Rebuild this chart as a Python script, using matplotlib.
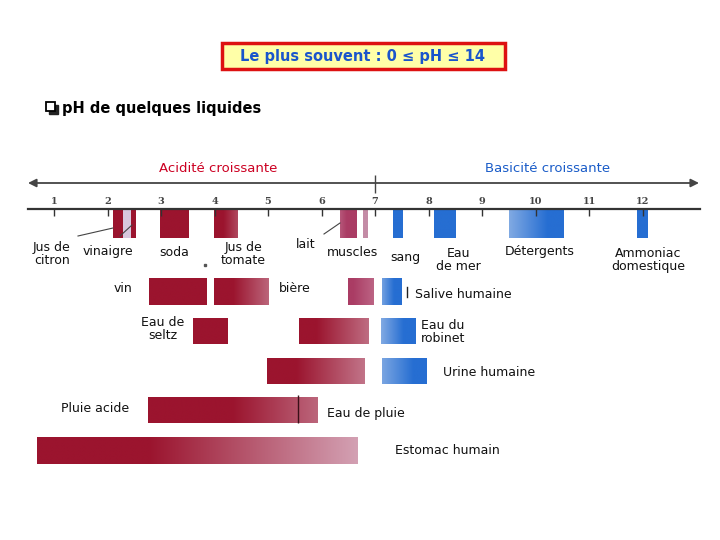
import numpy as np
import matplotlib
matplotlib.use("Agg")
import matplotlib.pyplot as plt
from matplotlib.patches import Rectangle

# ---------------- data ----------------
ph_ticks = [1, 2, 3, 4, 5, 6, 7, 8, 9, 10, 11, 12]

bar_names = ["Jus de citron", "vinaigre (clair)", "vinaigre", "soda", "Jus de tomate",
             "lait", "muscles", "sang", "Eau de mer", "Détergents", "Ammoniac domestique",
             "vin", "bière", "Salive (acide)", "Salive (basique)",
             "Eau de seltz", "Eau du robinet (acide)", "Eau du robinet (basique)",
             "Urine (acide)", "Urine (basique)",
             "Pluie acide", "Estomac humain"]
bar_lo = [2.10, 2.29, 2.44, 2.98, 3.99, 6.35, 6.77, 7.34, 8.10, 9.50, 11.90,
          2.78, 3.99, 6.50, 7.13,
          3.60, 5.58, 7.11,
          4.98, 7.13,
          2.76, 0.68]
bar_hi = [2.29, 2.44, 2.53, 3.52, 4.42, 6.65, 6.85, 7.52, 8.50, 10.51, 12.10,
          3.86, 5.00, 6.98, 7.50,
          4.25, 6.87, 7.75,
          6.81, 7.97,
          5.93, 6.68]
bar_row = [0, 0, 0, 0, 0, 0, 0, 0, 0, 0, 0,
           1, 1, 1, 1,
           2, 2, 2,
           3, 3,
           4, 5]
bar_hue = ["red", "pale", "red", "red", "red", "pink", "mauve", "blue", "blue", "blue", "blue",
           "red", "red", "pink", "blue",
           "red", "red", "blue",
           "red", "blue",
           "red", "red"]
rain_mark_ph = 5.56   # limite "Eau de pluie"

# ---------------- styles ----------------
bar_fade = ["none", "none", "none", "none", "right", "left", "none", "none", "none", "left", "none",
            "none", "right", "right", "left",
            "none", "right", "left",
            "right", "left",
            "right", "right"]
fade_start = [0, 0, 0, 0, 0.4, 0.6, 0, 0, 0, 0.3, 0,
              0, 0.35, 0.2, 0.4,
              0, 0.25, 0.35,
              0.3, 0.3,
              0.5, 0.35]
fade_amount = [0, 0, 0, 0, 0.35, 0.3, 0, 0, 0, 0.65, 0,
               0, 0.55, 0.45, 0.55,
               0, 0.6, 0.65,
               0.65, 0.6,
               0.55, 0.95]
palette = {
    "red":   ((155, 20, 46), (214, 168, 186)),
    "pink":  ((170, 60, 100), (210, 150, 172)),
    "mauve": ((196, 140, 166), (196, 140, 166)),
    "pale":  ((216, 200, 222), (216, 200, 222)),
    "blue":  ((38, 110, 210), (178, 202, 236)),
}
row_top = [210, 278, 318, 358, 397, 437]
row_h = [28, 27, 26, 26, 26, 27]

PX_PER_PH = 53.5
PH0_PX = 0.5


def px2ph(x):
    return (x - PH0_PX) / PX_PER_PH


fig = plt.figure(figsize=(7.2, 5.4), dpi=100)
fig.patch.set_facecolor("white")

# pH axes (x in pH units, y in pixels)
ax = fig.add_axes([0, 0, 1, 1])
ax.patch.set_alpha(0)
# pixel overlay axes for text/decoration
ap = fig.add_axes([0, 0, 1, 1])
ap.patch.set_alpha(0)

N = 300
t = np.linspace(0, 1, N)
for i in range(len(bar_names)):
    dark, light = palette[bar_hue[i]]
    dark = np.array(dark) / 255.0
    light = np.array(light) / 255.0
    s, a = fade_start[i], fade_amount[i]
    if bar_fade[i] == "right":
        m = np.clip((t - s) / (1 - s), 0, 1) * a
    elif bar_fade[i] == "left":
        m = np.clip(((1 - t) - s) / (1 - s), 0, 1) * a
    else:
        m = np.zeros_like(t)
    img = dark[None, :] * (1 - m[:, None]) + light[None, :] * m[:, None]
    img = img[None, :, :]
    top = row_top[bar_row[i]]
    h = row_h[bar_row[i]]
    ax.imshow(img, extent=(bar_lo[i], bar_hi[i], top + h, top), aspect="auto",
              interpolation="bilinear", zorder=2)

# rain marker
ax.vlines(rain_mark_ph, 395, 423, color="#3a1018", lw=1.0, zorder=3)

# pH scale
ax.plot([px2ph(28), px2ph(700)], [209, 209], color="#333333", lw=1.6, zorder=4)
ax.vlines(ph_ticks, 209, 216, color="#333333", lw=1.0, zorder=4)
for v in ph_ticks:
    ax.text(v, 202, str(v), ha="center", va="center", fontsize=7,
            fontweight="bold", family="DejaVu Serif", color="#444444")

# direction arrow
ax.annotate("", xy=(px2ph(28), 183), xytext=(px2ph(699), 183),
            arrowprops=dict(arrowstyle="<|-|>", color="#444444", lw=1.3,
                            mutation_scale=12, shrinkA=0, shrinkB=0))
ax.vlines(7, 175, 193, color="#444444", lw=1.0)

ax.set_xlim(px2ph(0), px2ph(720))
ax.set_ylim(540, 0)
ax.axis("off")

# ---------------- pixel overlay ----------------
ap.set_xlim(0, 720)
ap.set_ylim(540, 0)
ap.axis("off")

ap.add_patch(Rectangle((222, 43), 283, 26, facecolor="#ffffa8", edgecolor="#dd1111", lw=2.5))
ap.text(363, 56, "Le plus souvent : 0 ≤ pH ≤ 14", ha="center", va="center",
        fontsize=10.5, fontweight="bold", color="#1a55cc")

# bullet box with shadow
ap.add_patch(Rectangle((48.5, 104.5), 9, 9, facecolor="#222222", edgecolor="#222222", lw=1))
ap.add_patch(Rectangle((46, 102), 9, 9, facecolor="white", edgecolor="black", lw=1.3))
ap.text(62, 109, "pH de quelques liquides", ha="left", va="center",
        fontsize=10.5, fontweight="bold", color="black")

ap.text(218, 169, "Acidité croissante", ha="center", va="center", fontsize=9.5, color="#cc0022")
ap.text(548, 169, "Basicité croissante", ha="center", va="center", fontsize=9.5, color="#1a5cc8")

labels = [
    ("Jus de\ncitron", 52, 254, "center"),
    ("vinaigre", 108, 252, "center"),
    ("soda", 174, 252, "center"),
    ("Jus de\ntomate", 243, 254, "center"),
    ("lait", 306, 245, "center"),
    ("muscles", 352, 252, "center"),
    ("sang", 405, 257, "center"),
    ("Eau\nde mer", 458, 260, "center"),
    ("Détergents", 540, 252, "center"),
    ("Ammoniac\ndomestique", 648, 260, "center"),
    ("vin", 123, 289, "center"),
    ("bière", 279, 288, "left"),
    ("Salive humaine", 415, 294, "left"),
    ("Eau de\nseltz", 163, 329, "center"),
    ("Eau du\nrobinet", 421, 332, "left"),
    ("Urine humaine", 443, 372, "left"),
    ("Pluie acide", 61, 409, "left"),
    ("Eau de pluie", 327, 414, "left"),
    ("Estomac humain", 395, 450, "left"),
]
for txt, x, y, ha in labels:
    ap.text(x, y, txt, ha=ha, va="center", fontsize=9, color="#111111", linespacing=1.05)

# leader lines
for (x0, y0, x1, y1) in [(78, 236, 113, 228), (120, 236, 132, 225), (324, 234, 340, 223)]:
    ap.plot([x0, x1], [y0, y1], color="#444444", lw=0.8)
ap.plot([407, 407], [287, 297], color="#222222", lw=1.0)
ap.plot([205], [265], marker="s", ms=1.5, color="#555555")

fig.savefig("out.png", dpi=100, facecolor="white")
